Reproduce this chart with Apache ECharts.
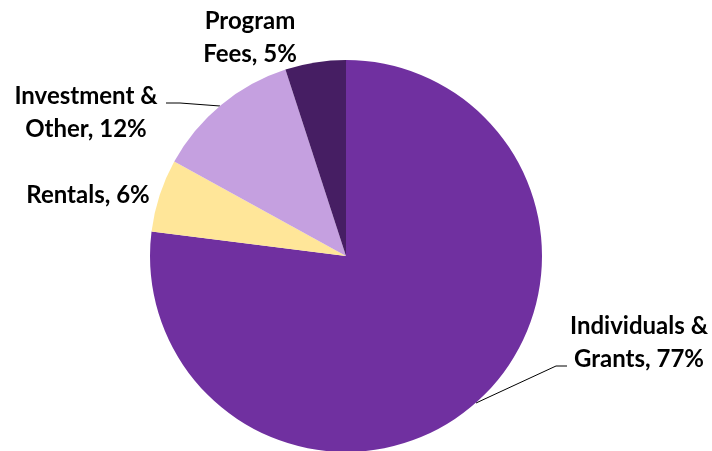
<!DOCTYPE html>
<html>
<head>
<meta charset="utf-8">
<script src="https://cdn.jsdelivr.net/npm/echarts@6/dist/echarts.min.js"></script>
<style>
  html, body { margin: 0; padding: 0; background: #fff; }
  #chart { width: 712px; height: 451px; }
</style>
</head>
<body>
<div id="chart"></div>
<script>
// slices, clockwise from 12 o'clock
const categories = ["Individuals &\nGrants", "Rentals", "Investment &\nOther", "Program\nFees"];
const shares = [77, 6, 12, 5];
const colors = ["#7030A0", "#FFE699", "#C5A0E0", "#461E63"];

// hand placed label spots, like the source chart
const labelSpots = [
  { x: 639, y: 343, line: [[476, 403], [556, 366], [567, 366]] },
  { x: 88, y: 195, line: null },
  { x: 86, y: 113, line: [[220, 106], [180, 103], [166, 103]] },
  { x: 250, y: 38, line: null },
];

var pieData = [];
for (var i = 0; i < categories.length; i++) {
  pieData.push({
    name: categories[i],
    value: shares[i],
    itemStyle: { color: colors[i] },
    labelLine: { show: labelSpots[i].line != null },
  });
}

const myChart = echarts.init(document.getElementById("chart"));
var option = {
  animation: false,
  series: [
    {
      type: "pie",
      center: [346, 256],
      radius: 196,
      startAngle: 90,
      clockwise: true,
      data: pieData,
      label: {
        show: true,
        formatter: function (p) {
          return p.name + ", " + p.value + "%";
        },
        fontFamily: "Lato",
        fontWeight: "bold",
        fontSize: 24,
        lineHeight: 33,
        color: "#000",
        align: "center",
        overflow: "none",
      },
      labelLine: {
        lineStyle: { color: "#000", width: 1 },
      },
      labelLayout: function (params) {
        var s = labelSpots[params.dataIndex];
        var out = {
          x: s.x,
          y: s.y,
          align: "center",
          verticalAlign: "middle",
        };
        if (s.line) out.labelLinePoints = s.line;
        return out;
      },
    },
  ],
};
myChart.setOption(option);
</script>
</body>
</html>
